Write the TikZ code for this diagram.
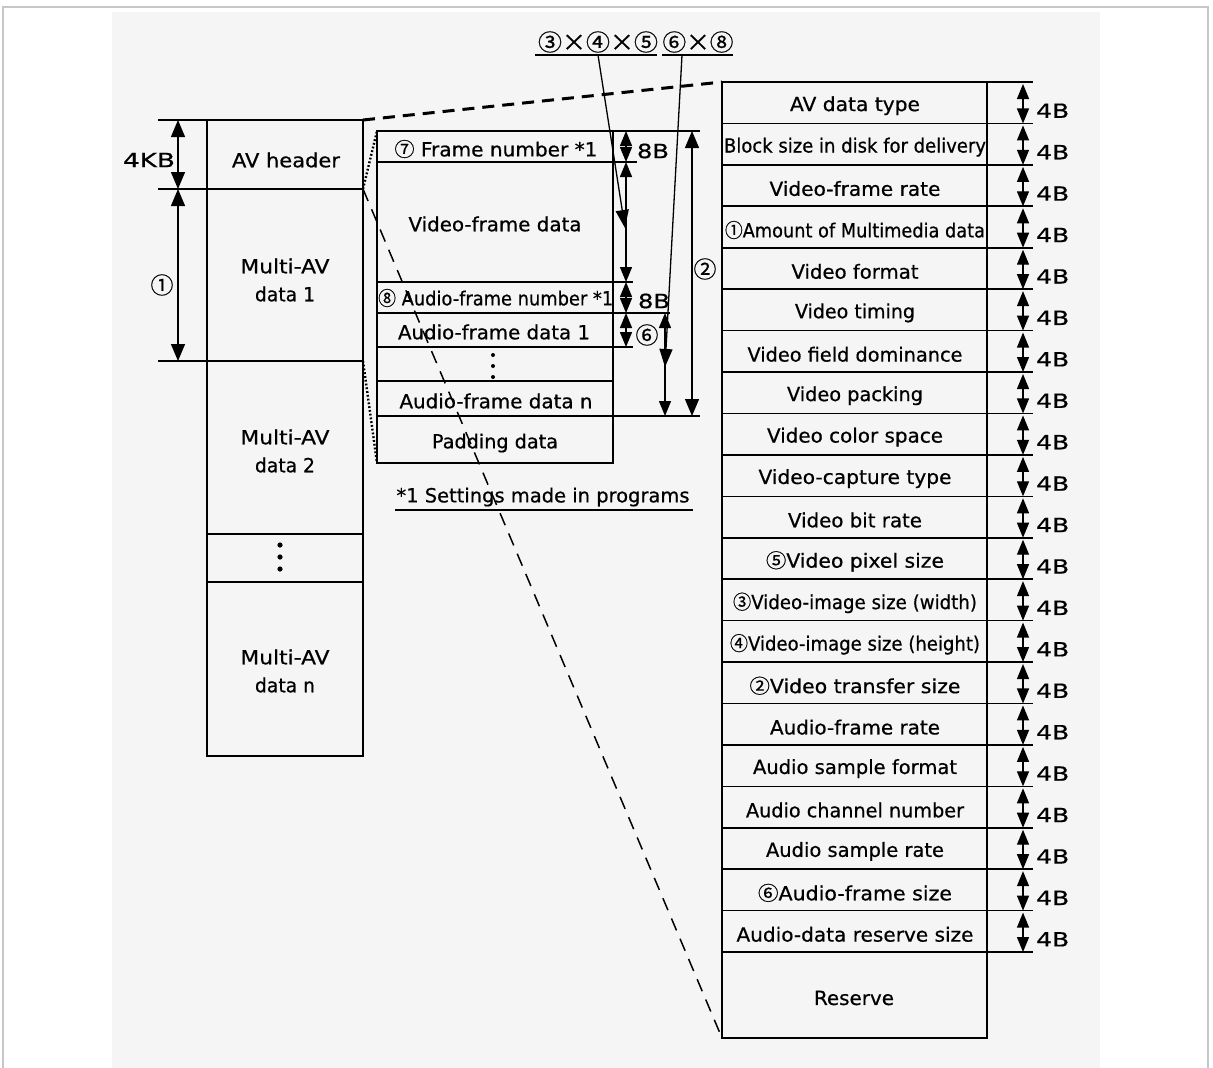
\documentclass[tikz,border=0pt]{standalone}
\usepackage{fontspec}
\usepackage{graphicx}
\setmainfont{DejaVu Sans}[FakeBold=0.6]
\newfontfamily\cj{Noto Sans CJK JP}[FakeBold=0.6]
\usetikzlibrary{arrows.meta}
\newcommand{\fw}[2]{\resizebox{#1pt}{\height}{#2}}
\newcommand{\cn}[1]{{\cj #1}}
\begin{document}
\begin{tikzpicture}[x=1pt,y=-1pt,
  every node/.style={inner sep=0pt, font=\fontsize{19.5}{28}\selectfont},
  box/.style={line width=1.6pt},
  thin/.style={line width=1.3pt},
  dimA/.style={line width=1.3pt, {Triangle[length=15pt,width=12pt]}-{Triangle[length=15pt,width=12pt]}},
  dimB/.style={line width=1.3pt, {Triangle[length=17pt,width=14pt]}-{Triangle[length=17pt,width=14pt]}},
  ptr/.style={line width=1.3pt, -{Triangle[length=18pt,width=13pt]}},
  sz/.style={font=\fontsize{19.5}{20}\selectfont},
  big/.style={font=\cj\fontsize{23}{24}\selectfont}
]
\useasboundingbox (0,0) rectangle (1213,1068);
\fill[white] (0,0) rectangle (1213,1068);
\fill[black!4] (112,12) rectangle (1100,1068);
\draw[black!22, line width=1.5pt] (3,1068) -- (3,7) -- (1208,7) -- (1208,1068);

% ---------------- left column ----------------
\draw[box] (207,120) rectangle (363,756);
\draw[box] (158,120) -- (363,120);
\draw[box] (158,189) -- (363,189);
\draw[box] (158,361) -- (363,361);
\draw[box] (207,534) -- (363,534);
\draw[box] (207,582) -- (363,582);
\coordinate (kT) at (178,120);
\coordinate (kM) at (178,189);
\coordinate (kB) at (178,361);
\draw[dimB] (kT) -- (kM);
\draw[dimB] (kM) -- (kB);
\node[sz] (kb) at (149,160) {\fw{52}{4KB}};
\node[big] (c1) at (162,285) {①};
\node (avh) at (286,160) {\fw{108}{AV header}};
\node[align=center] (mav1) at (285,280) {\fw{89}{Multi-AV}\\\fw{60}{data 1}};
\node[align=center] (mav2) at (285,451) {\fw{89}{Multi-AV}\\\fw{60}{data 2}};
\node[align=center] (mavn) at (285,671) {\fw{89}{Multi-AV}\\\fw{60}{data n}};
\foreach \yy in {545,557,569} \fill (280,\yy) circle (2.6pt);

% ---------------- middle column ----------------
\draw[box] (377,131) rectangle (613,463);
\draw[box] (377,131) -- (700,131);
\draw[box] (377,162) -- (637,162);
\draw[box] (377,282) -- (633,282);
\draw[box] (377,313) -- (670,313);
\draw[box] (377,347) -- (633,347);
\draw[box] (377,381) -- (613,381);
\draw[box] (377,416) -- (700,416);
\node (fn) at (496,149) {\fw{203}{\cn{⑦} Frame number *1}};
\node (vfd) at (495,224) {\fw{173}{Video-frame data}};
\node[anchor=west] (afn) at (378,298) {\fw{235}{\cn{⑧} Audio-frame number *1}};
\node (afd1) at (494,332) {\fw{192}{Audio-frame data 1}};
\node (afdn) at (496,401) {\fw{193}{Audio-frame data n}};
\node (pad) at (495,443) {\fw{126}{Padding data}};
\foreach \yy in {355,366,377} \fill (493,\yy) circle (2pt);
\node (note) at (543,497) {\fw{293}{*1 Settings made in programs}};
\draw[thin] (395,510) -- (693,510);

% dimension arrows (middle)
\coordinate (m1) at (626,131);
\coordinate (m2) at (626,162);
\coordinate (m3) at (626,282);
\coordinate (m4) at (626,313);
\coordinate (m5) at (626,347);
\draw[dimA] (m1) -- (m2);
\draw[dimA] (m2) -- (m3);
\draw[dimA] (m3) -- (m4);
\draw[dimA] (m4) -- (m5);
\coordinate (s1) at (665,313);
\coordinate (s2) at (665,416);
\draw[dimA] (s1) -- (s2);
\coordinate (t1) at (692,131);
\coordinate (t2) at (692,416);
\draw[dimB] (t1) -- (t2);
\node[sz] (eb1) at (653,151) {\fw{32}{8B}};
\node[sz] (eb2) at (654,301) {\fw{32}{8B}};
\node[big] (c6) at (647,335) {⑥};
\node[big] (c2) at (705,269) {②};

% formula
\node[big] (f1) at (598,42) {\fw{120}{③×④×⑤}};
\node[big] (f2) at (698,42) {\fw{71}{⑥×⑧}};
\draw[thin] (535,55) -- (657,55);
\draw[thin] (662,55) -- (733,55);
\coordinate (p1) at (598,55);
\coordinate (p2) at (682,55);
\coordinate (q1) at (625,228);
\coordinate (q2) at (665,367);
\draw[ptr] (p1) -- (q1);
\draw[ptr] (p2) -- (q2);

% ---------------- right table ----------------
\draw[box] (722,82) rectangle (987,1038);
\foreach \w/\t [count=\i from 0] in {
  130/AV data type,
  262/Block size in disk for delivery,
  171/Video-frame rate,
  260/{\cn{①}Amount of Multimedia data},
  127/Video format,
  120/Video timing,
  215/Video field dominance,
  136/Video packing,
  176/Video color space,
  193/Video-capture type,
  134/Video bit rate,
  178/{\cn{⑤}Video pixel size},
  244/{\cn{③}Video-image size (width)},
  250/{\cn{④}Video-image size (height)},
  211/{\cn{②}Video transfer size},
  170/Audio-frame rate,
  204/Audio sample format,
  218/Audio channel number,
  178/Audio sample rate,
  194/{\cn{⑥}Audio-frame size},
  237/Audio-data reserve size}{
  \pgfmathsetmacro{\ya}{82+\i*41.43}
  \pgfmathsetmacro{\yb}{82+(\i+1)*41.43}
  \pgfmathsetmacro{\yc}{82+(\i+0.5)*41.43}
  \draw[box] (722,\ya) -- (1033,\ya);
  \node (r\i) at (855,\yc+3) {\fw{\w}{\t}};
  \coordinate (ra\i) at (1023,\ya+2);
  \coordinate (rb\i) at (1023,\yb);
  \draw[dimA] (ra\i) -- (rb\i);
  \node[sz, anchor=west] (fb\i) at (1036,\yc+8) {\fw{33}{4B}};
}
\draw[box] (722,952) -- (1033,952);
\node (res) at (854,998) {\fw{80}{Reserve}};

% ---------------- zoom lines ----------------
\coordinate (hTR) at (363,120);
\coordinate (hBR) at (363,189);
\coordinate (dBR) at (363,361);
\coordinate (tTL) at (722,82);
\coordinate (tBL) at (722,1038);
\coordinate (mTL) at (377,131);
\coordinate (mBL) at (377,463);
\draw[line width=3pt, dash pattern=on 12pt off 8pt] (hTR) -- (tTL);
\draw[line width=1.5pt, dash pattern=on 13pt off 9pt] (hBR) -- (tBL);
\draw[line width=2.4pt, dash pattern=on 1.8pt off 2pt] (hBR) -- (mTL);
\draw[line width=2.4pt, dash pattern=on 1.8pt off 2pt] (dBR) -- (mBL);
\end{tikzpicture}
\end{document}
